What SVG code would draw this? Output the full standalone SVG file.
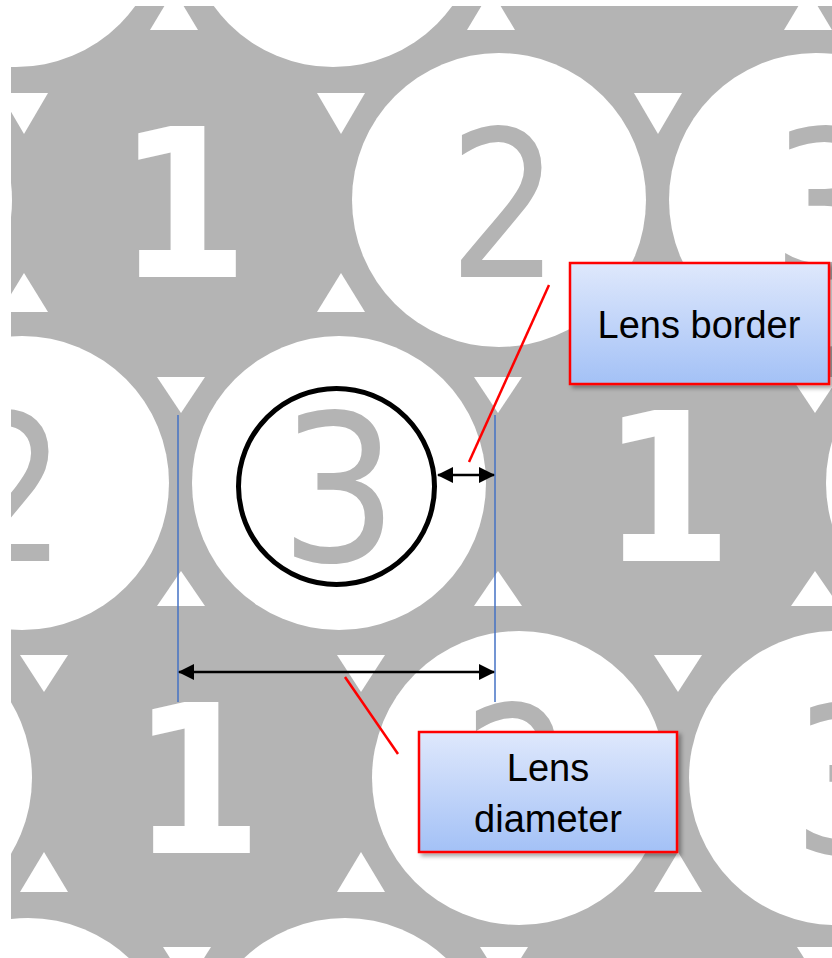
<svg xmlns="http://www.w3.org/2000/svg" width="832" height="958" viewBox="0 0 832 958">
<defs>
<style>
.lens{fill:#ffffff}
.tri{fill:#ffffff}
.dg{font-family:"DejaVu Sans",sans-serif;font-size:206px;fill:#b4b4b4;text-anchor:middle}
.dw{font-family:"DejaVu Sans",sans-serif;font-weight:bold;font-size:206px;fill:#ffffff;text-anchor:middle}
.box{stroke:#ff0000;stroke-width:2.5;fill:url(#boxgrad);filter:url(#shadow)}
.lbl{font-family:"Liberation Sans",Arial,sans-serif;font-size:38px;fill:#000000;text-anchor:middle}
.callout{stroke:#ff0000;stroke-width:2.5;fill:none}
.guide{stroke:#4472c4;stroke-width:1.5;fill:none}
.dim{stroke:#000000;stroke-width:2.5;fill:none;marker-start:url(#ah);marker-end:url(#ah)}
</style>
<linearGradient id="boxgrad" x1="0" y1="0" x2="0" y2="1">
<stop offset="0" stop-color="#dfe8fc"/>
<stop offset="1" stop-color="#a3c1f6"/>
</linearGradient>
<filter id="shadow" x="-10%" y="-10%" width="130%" height="130%">
<feDropShadow dx="3" dy="3" stdDeviation="2" flood-color="#000000" flood-opacity="0.35"/>
</filter>
<marker id="ah" viewBox="0 0 16 16" refX="15" refY="8" markerWidth="16" markerHeight="16" markerUnits="userSpaceOnUse" orient="auto-start-reverse">
<path d="M0,0 L16,8 L0,16 Z" fill="#000000"/>
</marker>
<clipPath id="frame"><rect x="11" y="6" width="821" height="952"/></clipPath>
</defs>
<rect x="0" y="0" width="832" height="958" fill="#ffffff"/>
<g id="lens-array" clip-path="url(#frame)">
<rect x="11" y="6" width="821" height="952" fill="#b4b4b4"/>
<g id="white-lenses">
<circle class="lens" cx="16" cy="-80" r="147"/>
<circle class="lens" cx="333" cy="-80" r="147"/>
<circle class="lens" cx="-135" cy="200" r="147"/>
<circle class="lens" cx="499" cy="200" r="147"/>
<circle class="lens" cx="816" cy="200" r="147"/>
<circle class="lens" cx="22" cy="483" r="147"/>
<circle class="lens" cx="339" cy="483" r="147"/>
<circle class="lens" cx="973" cy="483" r="147"/>
<circle class="lens" cx="-115" cy="778" r="147"/>
<circle class="lens" cx="519" cy="778" r="147"/>
<circle class="lens" cx="836" cy="778" r="147"/>
<circle class="lens" cx="28" cy="1065" r="147"/>
<circle class="lens" cx="345" cy="1065" r="147"/>
</g>
<g id="interstices">
<polygon class="tri" points="174,-10 150,30 198,30"/>
<polygon class="tri" points="491,-10 467,30 515,30"/>
<polygon class="tri" points="808,-10 784,30 832,30"/>
<polygon class="tri" points="0,93 48,93 24,134"/>
<polygon class="tri" points="317,93 365,93 341,134"/>
<polygon class="tri" points="634,93 682,93 658,134"/>
<polygon class="tri" points="24,273 0,312 48,312"/>
<polygon class="tri" points="341,273 317,312 365,312"/>
<polygon class="tri" points="658,273 634,312 682,312"/>
<polygon class="tri" points="157,377 205,377 181,413"/>
<polygon class="tri" points="474,377 522,377 498,413"/>
<polygon class="tri" points="791,377 839,377 815,413"/>
<polygon class="tri" points="181,571 157,606 205,606"/>
<polygon class="tri" points="498,571 474,606 522,606"/>
<polygon class="tri" points="815,571 791,606 839,606"/>
<polygon class="tri" points="20,655 68,655 44,692"/>
<polygon class="tri" points="337,655 385,655 361,692"/>
<polygon class="tri" points="654,655 702,655 678,692"/>
<polygon class="tri" points="44,852 20,892 68,892"/>
<polygon class="tri" points="361,852 337,892 385,892"/>
<polygon class="tri" points="678,852 654,892 702,892"/>
<polygon class="tri" points="163,947 211,947 187,985"/>
<polygon class="tri" points="480,947 528,947 504,985"/>
<polygon class="tri" points="797,947 845,947 821,985"/>
</g>
<g id="digits">
<text class="dw" transform="translate(183,277) scale(0.92,1)">1</text>
<text class="dg" transform="translate(504,277) scale(0.85,1)">2</text>
<text class="dg" transform="translate(830,277) scale(0.9,1)">3</text>
<text class="dg" transform="translate(11,561) scale(0.85,1)">2</text>
<text class="dg" transform="translate(339,561) scale(0.9,1)">3</text>
<text class="dw" transform="translate(667,561) scale(0.92,1)">1</text>
<text class="dw" transform="translate(197,853) scale(0.92,1)">1</text>
<text class="dg" transform="translate(518,853) scale(0.85,1)">2</text>
<text class="dg" transform="translate(851,853) scale(0.9,1)">3</text>
</g>
</g>
<g id="lens-aperture">
<circle cx="336.5" cy="486.5" r="98" fill="none" stroke="#000000" stroke-width="5"/>
</g>
<g id="connectors">
<line class="guide" x1="178" y1="415" x2="178" y2="702"/>
<line class="guide" x1="495" y1="415" x2="495" y2="702"/>
<line class="dim" x1="438" y1="475" x2="494" y2="475"/>
<line class="dim" x1="179" y1="672" x2="494" y2="672"/>
<line class="callout" x1="549" y1="285" x2="469" y2="462"/>
<line class="callout" x1="398" y1="754" x2="345" y2="677"/>
</g>
<g id="lens-border-label">
<rect class="box" x="570" y="263" width="259" height="121"/>
<text class="lbl" x="699" y="338">Lens border</text>
</g>
<g id="lens-diameter-label">
<rect class="box" x="419" y="732" width="258" height="120"/>
<text class="lbl" x="548" y="781">Lens</text>
<text class="lbl" x="548" y="832">diameter</text>
</g>
</svg>
